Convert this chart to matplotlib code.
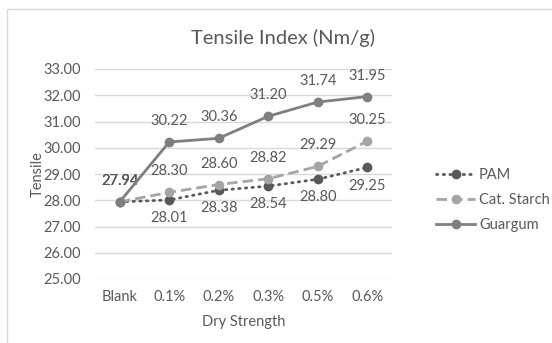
import matplotlib
matplotlib.use("Agg")
import matplotlib.pyplot as plt
from matplotlib.patches import Rectangle
from matplotlib.lines import Line2D

plt.rcParams['font.family'] = ['Lato', 'DejaVu Sans']

categories = ["Blank", "0.1%", "0.2%", "0.3%", "0.5%", "0.6%"]
pam = [27.94, 28.01, 28.38, 28.54, 28.80, 29.25]
starch = [27.94, 28.30, 28.60, 28.82, 29.29, 30.25]
guargum = [27.94, 30.22, 30.36, 31.20, 31.74, 31.95]
yticks = [25, 26, 27, 28, 29, 30, 31, 32, 33]

txt = '#595959'
c_pam = '#595959'
c_starch = '#A5A5A5'
c_guar = '#7F7F7F'

lw = 2.0
ms = 6
dot = (0, (0.5, 1.9))
dash = (0, (3.8, 1.8))

fig = plt.figure(figsize=(5.52, 3.43), dpi=100)
fig.patches.append(Rectangle((7/552, -0.1), 1.2, 1 - 9/343 + 0.1, transform=fig.transFigure,
                             fill=False, edgecolor='#D9D9D9', linewidth=1.0))
ax = fig.add_axes([95/552, 1 - 279/343, 297/552, 210/343])

x = list(range(len(categories)))
ax.plot(x, pam, color=c_pam, linestyle=dot, linewidth=lw, marker='o',
        markersize=ms, dash_capstyle='round', zorder=3)
ax.plot(x, starch, color=c_starch, linestyle=dash, linewidth=lw, marker='o',
        markersize=ms, zorder=3)
ax.plot(x, guargum, color=c_guar, linestyle='-', linewidth=lw, marker='o',
        markersize=ms, zorder=4)

fs = 10.5
for i in x:
    ax.annotate(f"{guargum[i]:.2f}", (i, guargum[i]), xytext=(0, 10), textcoords='offset points',
                ha='center', va='bottom', fontsize=fs, color=txt)
    ax.annotate(f"{starch[i]:.2f}", (i, starch[i]), xytext=(0, 10), textcoords='offset points',
                ha='center', va='bottom', fontsize=fs, color=txt)
    if i == 0:
        ax.annotate(f"{pam[i]:.2f}", (i, pam[i]), xytext=(0, 10), textcoords='offset points',
                    ha='center', va='bottom', fontsize=fs, color=txt)
    else:
        ax.annotate(f"{pam[i]:.2f}", (i, pam[i]), xytext=(0, -8), textcoords='offset points',
                    ha='center', va='top', fontsize=fs, color=txt)

ax.set_xlim(-0.5, len(categories) - 0.5)
ax.set_ylim(25, 33)
ax.set_yticks(yticks)
ax.set_yticklabels([f"{v:.2f}" for v in yticks])
ax.set_xticks(x)
ax.set_xticklabels(categories)
ax.grid(axis='y', color='#D9D9D9', linewidth=1.0)
ax.set_axisbelow(True)
for s in ax.spines.values():
    s.set_visible(False)
ax.tick_params(axis='both', length=0, labelsize=fs, colors=txt)
ax.tick_params(axis='y', pad=10)
ax.tick_params(axis='x', pad=8)

ax.set_xlabel("Dry Strength", fontsize=fs, color=txt, labelpad=8)
ax.set_ylabel("Tensile", fontsize=fs, color=txt, va='center')
ax.yaxis.set_label_coords((38 - 95) / 297, 0.5)
fig.text(283/552, 1 - 38/343, "Tensile Index (Nm/g)", ha='center', va='center',
         fontsize=14.5, color=txt)

handles = [
    Line2D([], [], color=c_pam, linestyle=dot, linewidth=lw, marker='o', markersize=ms, dash_capstyle='round'),
    Line2D([], [], color=c_starch, linestyle=dash, linewidth=lw, marker='o', markersize=ms),
    Line2D([], [], color=c_guar, linestyle='-', linewidth=lw, marker='o', markersize=ms),
]
leg = fig.legend(handles, ['PAM', 'Cat. Starch', 'Guargum'], loc='center left',
                 bbox_to_anchor=(436/552, 1 - 200/343), frameon=False, fontsize=fs,
                 handlelength=2.7, handletextpad=0.25, labelspacing=0.75, borderaxespad=0,
                 borderpad=0, numpoints=1)
for t in leg.get_texts():
    t.set_color(txt)

fig.savefig("out.png", dpi=100)
